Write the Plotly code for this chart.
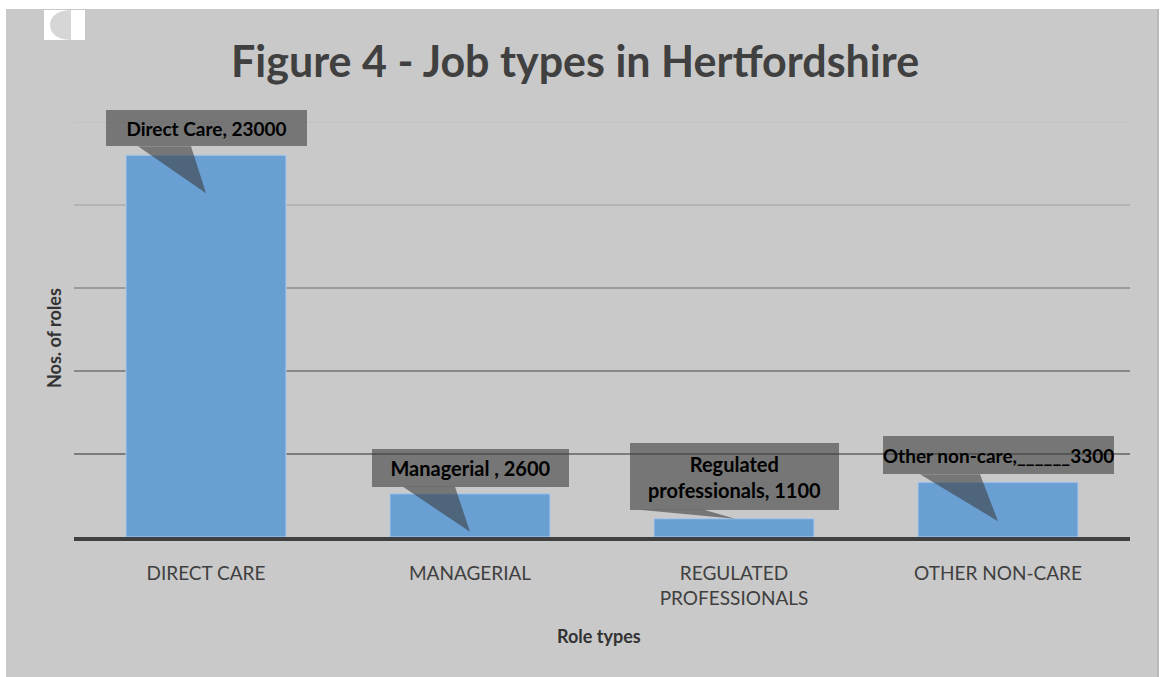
import plotly.graph_objects as go

# ---------------- data ----------------
categories = ["DIRECT CARE", "MANAGERIAL", "REGULATED<br>PROFESSIONALS", "OTHER NON-CARE"]
values = [23000, 2600, 1100, 3300]
label_texts = ["Direct Care, 23000", "Managerial , 2600",
               "Regulated<br>professionals, 1100", "Other non-care,______3300"]
grid_values = [5000, 10000, 15000, 20000, 25000]
title_text = "Figure 4 - Job types in Hertfordshire"
y_title = "Nos. of roles"
x_title = "Role types"

# ---------------- styles ----------------
FONT = "Lato"
BG = "#c9c9c9"
BAR = "#6a9fd3"
BOX = "rgba(58,58,58,0.58)"
grid_colors = ["#7c7c7c", "#888888", "#9a9a9a", "#b4b4b4", "#c2c2c2"]
# per-label callout geometry (pixels): box w, h, centre above bar top,
# wedge base x0, x1, base height above top, tip x, tip height above top
box_w = [201, 197, 209, 231]
box_h = [36, 38, 67, 38]
box_up = [27, 26, 42, 27]
label_size = [19, 20, 20, 19]
wedge_x0 = [-68, -67, -95, -78]
wedge_x1 = [-15, -15, -30, -18]
wedge_base = [9, 7, 9, 8]
tip_x = [0, 0, 1, 0]
tip_up = [-38, -38, 0, -39]

ML, MR, MT, MB = 74, 36, 122, 140
W, H = 1166, 677
PB = H - MB  # plot bottom pixel

fig = go.Figure()
fig.add_trace(go.Bar(
    x=list(range(len(categories))), y=values, width=0.606,
    marker=dict(color=BAR, line=dict(color="#a9c9ea", width=1)),
    hoverinfo="skip"))

shapes = []
# grey chart background
shapes.append(dict(type="rect", xref="paper", yref="paper", xsizemode="pixel", ysizemode="pixel",
                   xanchor=0, yanchor=0, x0=6 - ML, x1=1159 - ML, y0=PB - H, y1=PB - 9,
                   fillcolor=BG, line=dict(width=0), layer="below"))
shapes.append(dict(type="line", xref="paper", yref="paper", xsizemode="pixel", ysizemode="pixel",
                   xanchor=0, yanchor=0, x0=1158 - ML, x1=1158 - ML, y0=PB - H, y1=PB - 9,
                   line=dict(color="#b9b9b9", width=2), layer="below"))
# small icon top-left
shapes.append(dict(type="rect", xref="paper", yref="paper", xsizemode="pixel", ysizemode="pixel",
                   xanchor=0, yanchor=0, x0=44 - ML, x1=85 - ML, y0=PB - 40, y1=PB - 10,
                   fillcolor="white", line=dict(width=0), layer="below"))

def pt(x, y):
    return f"{x - ML},{PB - y}"

icon_path = (f"M {pt(71, 10)} C {pt(60, 10)} {pt(50, 15)} {pt(50, 25)} "
             f"C {pt(50, 35)} {pt(60, 40)} {pt(71, 40)} Z")
shapes.append(dict(type="path", xref="paper", yref="paper", xsizemode="pixel", ysizemode="pixel",
                   xanchor=0, yanchor=0, path=icon_path, fillcolor="#d6d6d6",
                   line=dict(width=0), layer="below"))
# gridlines
for gv, gc in zip(grid_values, grid_colors):
    shapes.append(dict(type="line", xref="paper", x0=0, x1=1, yref="y", y0=gv, y1=gv,
                       line=dict(color=gc, width=2), layer="below"))
# callout wedges
for i, v in enumerate(values):
    path = (f"M {wedge_x0[i]},{wedge_base[i]} L {wedge_x1[i]},{wedge_base[i]} "
            f"L {tip_x[i]},{tip_up[i]} Z")
    shapes.append(dict(type="path", xref="x", yref="y", xsizemode="pixel", ysizemode="pixel",
                       xanchor=i, yanchor=v, path=path, fillcolor=BOX,
                       line=dict(width=0), layer="above"))

annotations = []
for i, (v, t) in enumerate(zip(values, label_texts)):
    annotations.append(dict(x=i, y=v, xref="x", yref="y", text=t, showarrow=False,
                            yshift=box_up[i], xanchor="center", yanchor="middle",
                            width=box_w[i], height=box_h[i], bgcolor=BOX, borderpad=0,
                            borderwidth=0, align="center", valign="middle",
                            font=dict(family=FONT, size=label_size[i], color="black",
                                      weight="bold")))
annotations.append(dict(text=title_text, xref="paper", yref="paper",
                        x=(575 - ML) / (W - ML - MR), y=(PB - 61) / (H - MT - MB),
                        xanchor="center", yanchor="middle", showarrow=False,
                        font=dict(family=FONT, size=43, color="#404040", weight="bold")))
annotations.append(dict(text=y_title, xref="paper", yref="paper", textangle=-90,
                        x=(54 - ML) / (W - ML - MR), y=(PB - 338) / (H - MT - MB),
                        xanchor="center", yanchor="middle", showarrow=False,
                        font=dict(family=FONT, size=18, color="#333333", weight="bold")))
annotations.append(dict(text=x_title, xref="paper", yref="paper",
                        x=(599 - ML) / (W - ML - MR), y=(PB - 636) / (H - MT - MB),
                        xanchor="center", yanchor="middle", showarrow=False,
                        font=dict(family=FONT, size=18, color="#333333", weight="bold")))

fig.update_layout(
    width=W, height=H, margin=dict(l=ML, r=MR, t=MT, b=MB, pad=0),
    paper_bgcolor="white", plot_bgcolor="rgba(0,0,0,0)",
    showlegend=False, shapes=shapes, annotations=annotations,
    xaxis=dict(tickmode="array", tickvals=list(range(len(categories))), ticktext=categories,
               range=[-0.5, len(categories) - 0.5], showgrid=False, zeroline=False,
               showline=True, linecolor="#404040", linewidth=4, ticks="",
               ticklabelstandoff=16,
               tickfont=dict(family=FONT, size=19, color="#404040"), fixedrange=True),
    yaxis=dict(range=[0, 25000], showgrid=False, zeroline=False, showticklabels=False,
               showline=False, ticks="", fixedrange=True),
)

fig.write_html("out.html")
